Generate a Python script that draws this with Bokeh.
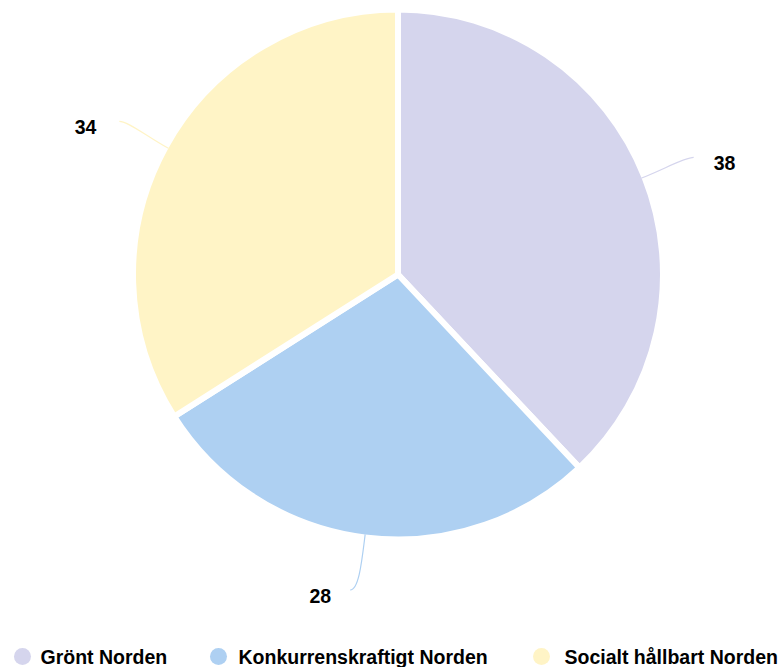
import math
from bokeh.plotting import figure
from bokeh.models import Range1d, ColumnDataSource
from bokeh.core.properties import value
from bokeh.embed import file_html
from bokeh.resources import INLINE

# ---- data ----
categories = ["Grönt Norden", "Konkurrenskraftigt Norden", "Socialt hållbart Norden"]
values = [38, 28, 34]
colors = ["#d5d5ed", "#aed0f2", "#fff4c6"]

# ---- layout (pixel space, y measured upward) ----
W, H = 783, 667
cx, cy = 397.5, H - 274
r_vis = 262          # visible radius
border = 6
r_path = r_vis + border / 2
r_conn = 318         # connector end radius
legend_y = H - 656
legend_sym_x = [22, 218, 541]
legend_txt_x = [40, 238, 564]
FONT = value("Liberation Sans")
FSIZE = "19.5px"

p = figure(width=W, height=H, x_range=Range1d(0, W), y_range=Range1d(0, H),
           output_backend="svg", toolbar_location=None, min_border=0,
           outline_line_color=None, background_fill_color="white",
           border_fill_color="white")
p.axis.visible = False
p.grid.visible = False

total = float(sum(values))
starts, ends, mids = [], [], []
acc = 0.0
for v in values:
    a0 = acc / total * 2 * math.pi
    acc += v
    a1 = acc / total * 2 * math.pi
    starts.append(math.pi / 2 - a0)
    ends.append(math.pi / 2 - a1)
    mids.append((a0 + a1) / 2)   # clockwise from top

src = ColumnDataSource(dict(start=starts, end=ends, color=colors))
p.wedge(x=cx, y=cy, radius=r_path, start_angle="start", end_angle="end",
        direction="clock", fill_color="color", line_color="white",
        line_width=border, source=src)

# connectors + labels
for v, m, c in zip(values, mids, colors):
    dx, dy = math.sin(m), math.cos(m)
    x0, y0 = cx + r_vis * dx, cy + r_vis * dy
    right = dx > 0
    x3, y3 = cx + r_conn * dx, cy + r_conn * dy
    if abs(dy) > 0.9:   # label near bottom/top is pushed sideways
        x3 += -8 if not right else 8
    xc1, yc1 = cx + (r_vis + 25) * dx, cy + (r_vis + 25) * dy
    xc2 = x3 + (-9 if right else 9)
    yc2 = y3
    p.bezier(x0=[x0], y0=[y0], x1=[x3], y1=[y3], cx0=[xc1], cy0=[yc1],
             cx1=[xc2], cy1=[yc2], line_color=c, line_width=1.2)
    if abs(dy) > 0.9:
        tx = x3 + (16 if right else -19)
    else:
        tx = x3 + (20 if right else -23)
    p.text(x=[tx], y=[y3 - 6], text=[str(v)],
           text_align="left" if right else "right", text_baseline="middle",
           text_font=FONT, text_font_style="bold",
           text_font_size=FSIZE, text_color="#000000")

# legend
p.scatter(x=legend_sym_x, y=[legend_y] * 3, size=17, marker="circle",
          fill_color=colors, line_color=None)
p.text(x=legend_txt_x, y=[legend_y] * 3, text=categories,
       text_align="left", text_baseline="middle",
       text_font=FONT, text_font_style="bold",
       text_font_size=FSIZE, text_color="#000000")

open("out.html", "w").write(file_html(p, INLINE))
